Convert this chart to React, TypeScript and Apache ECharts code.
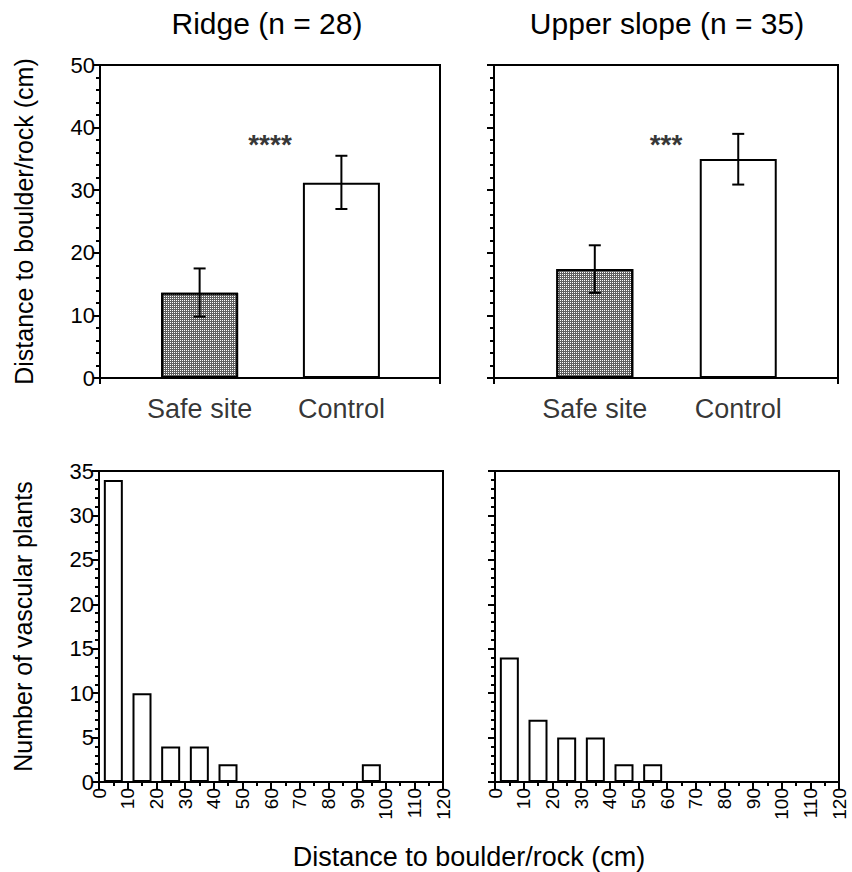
import React, { useEffect, useRef } from 'react';
import * as echarts from 'echarts';

// ---------- data ----------
const panelTitles = ['Ridge (n = 28)', 'Upper slope (n = 35)'];
const categories = ['Safe site', 'Control'];
const ridgeMean = [13.6, 31.2];
const ridgeLower = [9.8, 27.0];
const ridgeUpper = [17.5, 35.5];
const slopeMean = [17.4, 35.0];
const slopeLower = [13.6, 30.9];
const slopeUpper = [21.2, 39.0];
const significance = ['****', '***'];
const significanceLevel = 38;

const binStarts = [0, 10, 20, 30, 40, 50, 60, 70, 80, 90, 100, 110];
const ridgeCounts = [34, 10, 4, 4, 2, 0, 0, 0, 0, 2, 0, 0];
const slopeCounts = [14, 7, 5, 5, 2, 2, 0, 0, 0, 0, 0, 0];

const yTitleTop = 'Distance to boulder/rock (cm)';
const yTitleBottom = 'Number of vascular plants';
const xTitleBottom = 'Distance to boulder/rock (cm)';

// ---------- layout / style ----------
const FONT = '"Liberation Sans", Arial, Helvetica, sans-serif';
const BLACK = '#000';
const barSlots = [29.3, 71]; // horizontal slot of each bar on a 0..100 panel scale

const grids = [
  { left: 100, top: 65, width: 340, height: 313 },
  { left: 494, top: 65, width: 344, height: 313 },
  { left: 99, top: 471, width: 344, height: 311 },
  { left: 495, top: 471, width: 344, height: 311 },
];

const lineStyle = { color: BLACK, width: 2 };
const tickStyle = { color: BLACK, width: 2 };

function App() {
  const ref = useRef<HTMLDivElement>(null);

  useEffect(() => {
    if (!ref.current) return;
    const chart = echarts.init(ref.current, undefined, { renderer: 'svg' });

    const patterned = {
      color: '#606060',
      borderColor: BLACK,
      borderWidth: 2,
      decal: {
        symbol: 'rect',
        symbolSize: 1,
        dashArrayX: [1, 1],
        dashArrayY: [1, 1],
        color: '#ffffff',
      },
    };
    const plain = { color: '#ffffff', borderColor: BLACK, borderWidth: 2, decal: 'none' as any };

    const xAxes: any[] = [];
    const yAxes: any[] = [];
    const series: any[] = [];

    // top row: bar charts
    [0, 1].forEach((p) => {
      xAxes.push({
        gridIndex: p,
        type: 'value',
        min: 0,
        max: 100,
        interval: 100,
        axisLine: { lineStyle },
        axisTick: { length: 6, lineStyle: tickStyle },
        axisLabel: { show: false },
        splitLine: { show: false },
      });
      yAxes.push({
        gridIndex: p,
        type: 'value',
        min: 0,
        max: 50,
        interval: 10,
        axisLine: { show: true, lineStyle },
        axisTick: { length: 7, lineStyle: tickStyle },
        minorTick: { show: true, splitNumber: 5, length: 4, lineStyle: tickStyle },
        axisLabel: { show: p === 0, fontSize: 22, color: BLACK, fontFamily: FONT, margin: 5 },
        splitLine: { show: false },
        minorSplitLine: { show: false },
        name: p === 0 ? yTitleTop : '',
        nameLocation: 'middle',
        nameGap: 64,
        nameTextStyle: { fontSize: 25, color: BLACK, fontFamily: FONT },
      });
      const mean = p === 0 ? ridgeMean : slopeMean;
      const lower = p === 0 ? ridgeLower : slopeLower;
      const upper = p === 0 ? ridgeUpper : slopeUpper;
      series.push({
        type: 'bar',
        xAxisIndex: p,
        yAxisIndex: p,
        barWidth: 77,
        z: 2,
        data: mean.map((m, i) => ({
          value: [barSlots[i], m],
          itemStyle: i === 0 ? patterned : plain,
        })),
      });
      series.push({
        type: 'custom',
        xAxisIndex: p,
        yAxisIndex: p,
        z: 4,
        encode: { x: 0, y: [1, 2] },
        data: mean.map((_, i) => [barSlots[i], lower[i], upper[i]]),
        renderItem: (params: any, api: any) => {
          const x = api.value(0);
          const lo = api.coord([x, api.value(1)]);
          const hi = api.coord([x, api.value(2)]);
          const cap = 6;
          const st = { stroke: BLACK, lineWidth: 2 };
          return {
            type: 'group',
            children: [
              { type: 'line', shape: { x1: lo[0], y1: lo[1], x2: hi[0], y2: hi[1] }, style: st },
              { type: 'line', shape: { x1: hi[0] - cap, y1: hi[1], x2: hi[0] + cap, y2: hi[1] }, style: st },
              { type: 'line', shape: { x1: lo[0] - cap, y1: lo[1], x2: lo[0] + cap, y2: lo[1] }, style: st },
            ],
          };
        },
      });
      // category labels under the bars
      series.push({
        type: 'scatter',
        xAxisIndex: p,
        yAxisIndex: p,
        symbolSize: 1,
        itemStyle: { color: 'rgba(0,0,0,0)' },
        silent: true,
        data: categories.map((c, i) => ({ value: [barSlots[i], 0], name: c })),
        label: {
          show: true,
          position: 'bottom',
          distance: 17,
          formatter: '{b}',
          fontSize: 27,
          color: BLACK,
          fontFamily: FONT,
        },
      });
      // significance stars
      series.push({
        type: 'scatter',
        xAxisIndex: p,
        yAxisIndex: p,
        symbolSize: 1,
        itemStyle: { color: 'rgba(0,0,0,0)' },
        silent: true,
        data: [{ value: [50, significanceLevel], name: significance[p] }],
        label: {
          show: true,
          position: 'inside',
          offset: [0, 4],
          formatter: '{b}',
          fontSize: 28,
          fontWeight: 'bold',
          color: BLACK,
          fontFamily: FONT,
        },
      });
    });

    // bottom row: histograms
    [2, 3].forEach((p) => {
      xAxes.push({
        gridIndex: p,
        type: 'value',
        min: 0,
        max: 120,
        interval: 10,
        axisLine: { lineStyle },
        axisTick: { length: 8, lineStyle: tickStyle },
        minorTick: { show: true, splitNumber: 2, length: 4, lineStyle: tickStyle },
        axisLabel: { rotate: 90, fontSize: 19, color: BLACK, fontFamily: FONT, margin: 6 },
        splitLine: { show: false },
        minorSplitLine: { show: false },
      });
      yAxes.push({
        gridIndex: p,
        type: 'value',
        min: 0,
        max: 35,
        interval: 5,
        axisLine: { show: true, lineStyle },
        axisTick: { length: 7, lineStyle: tickStyle },
        minorTick: { show: true, splitNumber: 5, length: 4, lineStyle: tickStyle },
        axisLabel: { show: p === 2, fontSize: 22, color: BLACK, fontFamily: FONT, margin: 5 },
        splitLine: { show: false },
        minorSplitLine: { show: false },
        name: p === 2 ? yTitleBottom : '',
        nameLocation: 'middle',
        nameGap: 64,
        nameTextStyle: { fontSize: 25, color: BLACK, fontFamily: FONT },
      });
      const counts = p === 2 ? ridgeCounts : slopeCounts;
      series.push({
        type: 'bar',
        xAxisIndex: p,
        yAxisIndex: p,
        barWidth: 19,
        itemStyle: { color: '#ffffff', borderColor: BLACK, borderWidth: 2 },
        data: binStarts.map((s, i) => [s + 5, counts[i]]),
      });
    });

    chart.setOption({
      animation: false,
      backgroundColor: '#ffffff',
      textStyle: { fontFamily: FONT },
      grid: grids.map((g) => ({ ...g, show: true, borderColor: BLACK, borderWidth: 2, backgroundColor: 'transparent' })),
      xAxis: xAxes,
      yAxis: yAxes,
      series,
      graphic: [
        {
          type: 'text',
          x: 267,
          y: 23,
          style: { text: panelTitles[0], align: 'center', verticalAlign: 'middle', fontSize: 30, fontFamily: FONT, fill: BLACK },
        },
        {
          type: 'text',
          x: 667,
          y: 23,
          style: { text: panelTitles[1], align: 'center', verticalAlign: 'middle', fontSize: 30, fontFamily: FONT, fill: BLACK },
        },
        {
          type: 'text',
          x: 469,
          y: 857,
          style: { text: xTitleBottom, align: 'center', verticalAlign: 'middle', fontSize: 27, fontFamily: FONT, fill: BLACK },
        },
      ],
    });

    return () => chart.dispose();
  }, []);

  return (
    <div
      ref={ref}
      style={{ position: 'absolute', left: 0, top: 0, width: 852, height: 872, background: '#fff' }}
    />
  );
}

export default App;
